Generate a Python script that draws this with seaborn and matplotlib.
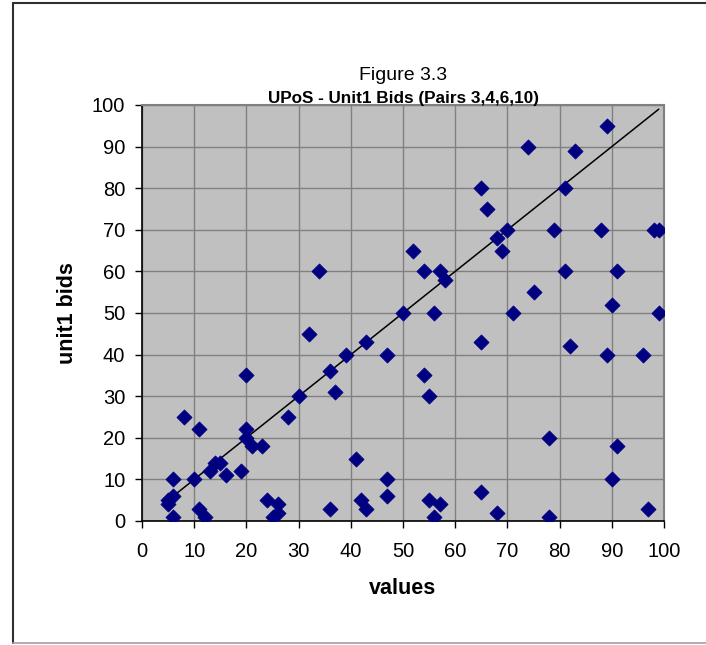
import matplotlib
matplotlib.use("Agg")
import matplotlib.pyplot as plt
import seaborn as sns
import pandas as pd
from matplotlib.lines import Line2D

# data
values = [5, 6, 5, 6, 6, 8, 10, 11, 11, 12, 13, 14, 15, 16, 19, 20, 20, 21, 23, 20,
          24, 26, 25, 26, 28, 30, 32, 34, 36, 37, 36, 39, 41, 42, 43, 43, 47, 47, 47, 50,
          52, 54, 54, 55, 55, 56, 56, 57, 57, 58, 65, 66, 65, 65, 68, 69, 70, 68, 71, 74,
          75, 78, 78, 79, 81, 81, 82, 83, 88, 89, 89, 90, 90, 91, 91, 96, 97, 98, 99, 99]
unit1_bids = [5, 6, 4, 10, 1, 25, 10, 22, 3, 1, 12, 14, 14, 11, 12, 22, 20, 18, 18, 35,
              5, 4, 1, 2, 25, 30, 45, 60, 36, 31, 3, 40, 15, 5, 3, 43, 40, 10, 6, 50,
              65, 60, 35, 30, 5, 50, 1, 60, 4, 58, 80, 75, 43, 7, 68, 65, 70, 2, 50, 90,
              55, 20, 1, 70, 80, 60, 42, 89, 70, 95, 40, 52, 10, 60, 18, 40, 3, 70, 70, 50]
line_x = [5, 99]
line_y = [5, 99]
ticks = list(range(0, 101, 10))

df = pd.DataFrame({'values': values, 'unit1 bids': unit1_bids})

sns.set_style("white")
plt.rcParams['font.family'] = ['Liberation Sans', 'DejaVu Sans']
plt.rcParams['text.color'] = 'black'
plt.rcParams['axes.labelcolor'] = 'black'
plt.rcParams['xtick.color'] = 'black'
plt.rcParams['ytick.color'] = 'black'

fig = plt.figure(figsize=(7.06, 6.45), dpi=100)
ax = fig.add_axes([142 / 706, 1 - 521 / 645, 522 / 706, 416 / 645])
ax.set_facecolor('#C0C0C0')

sns.lineplot(x=line_x, y=line_y, ax=ax, color='black', linewidth=1.1, zorder=3)
sns.scatterplot(data=df, x='values', y='unit1 bids', ax=ax, marker='D', s=60,
                color='#000080', edgecolor='#000080', linewidth=0.5, zorder=4)

ax.set_xlim(0, 100)
ax.set_ylim(0, 100)
ax.set_xticks(ticks)
ax.set_yticks(ticks)
ax.grid(True, color='#808080', linewidth=1)
ax.set_axisbelow(True)
ax.tick_params(axis='both', direction='out', length=5, width=1, color='black',
               labelsize=14.5, labelcolor='black', bottom=True, left=True)
ax.tick_params(axis='x', pad=10)
ax.tick_params(axis='y', pad=7)
for side in ['left', 'bottom']:
    ax.spines[side].set_color('black')
    ax.spines[side].set_linewidth(1.2)
for side in ['top', 'right']:
    ax.spines[side].set_color('#808080')
    ax.spines[side].set_linewidth(1.5)

ax.set_xlabel('values', fontsize=15.5, fontweight='bold', labelpad=12, color='black')
ax.set_ylabel('unit1 bids', fontsize=15.5, fontweight='bold', labelpad=10, color='black')

fig.text(403 / 706, 1 - 75 / 645, 'Figure 3.3', ha='center', va='center', fontsize=14)
fig.text(403 / 706, 1 - 98 / 645, 'UPoS - Unit1 Bids (Pairs 3,4,6,10)', ha='center',
         va='center', fontsize=12.3, fontweight='bold')

# chart border
fig.add_artist(Line2D([13 / 706, 13 / 706], [1 - 643 / 645, 1 - 3 / 645], color='#303030', linewidth=1.5))
fig.add_artist(Line2D([13 / 706, 1], [1 - 3 / 645, 1 - 3 / 645], color='#303030', linewidth=1.5))
fig.add_artist(Line2D([13 / 706, 1], [1 - 643 / 645, 1 - 643 / 645], color='#A0A0A0', linewidth=1.2))

fig.savefig('out.png', dpi=100)
